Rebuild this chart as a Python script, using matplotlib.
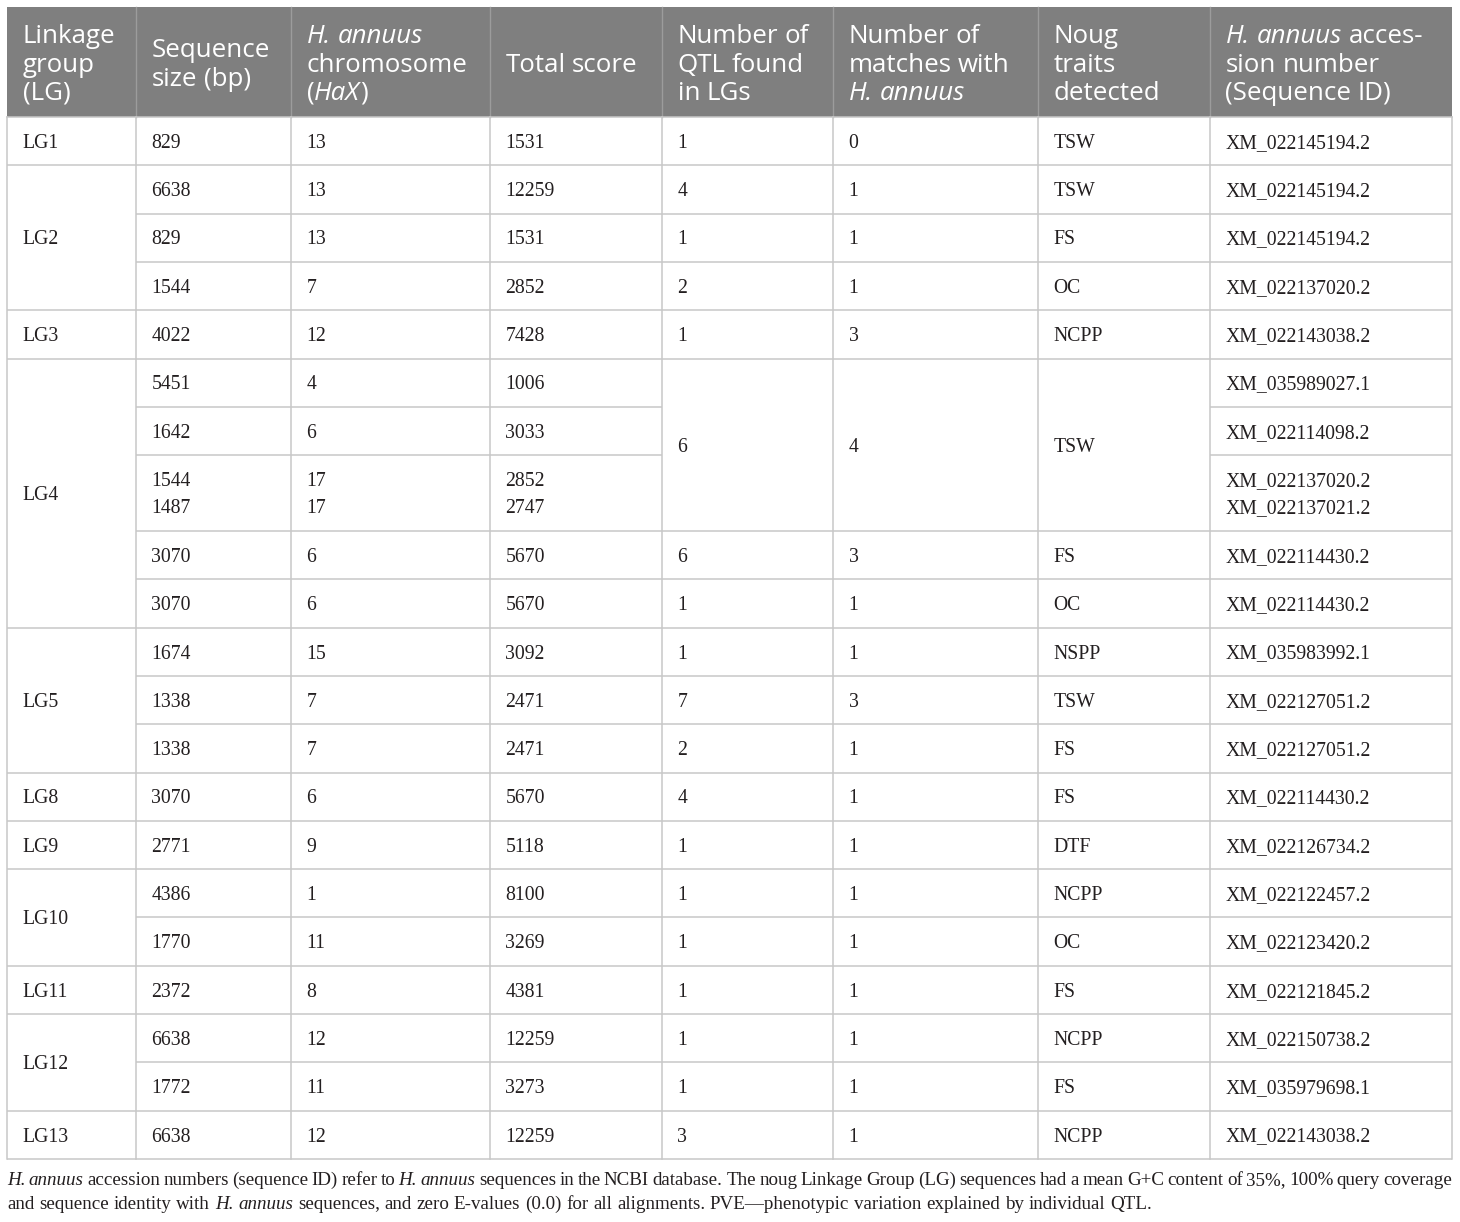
import matplotlib
matplotlib.use("Agg")
import matplotlib.pyplot as plt
from matplotlib import font_manager
from matplotlib.ft2font import FT2Font
import re

# ---- data ----
lg_groups = ["LG1", "LG2", "LG3", "LG4", "LG5", "LG8", "LG9", "LG10", "LG11", "LG12", "LG13"]
lg_sizes = [1, 3, 1, 5, 3, 1, 1, 2, 1, 2, 1]

seq_size = ["829", "6638", "829", "1544", "4022", "5451", "1642", "1544\n1487", "3070", "3070",
            "1674", "1338", "1338", "3070", "2771", "4386", "1770", "2372", "6638", "1772", "6638"]
chromosome = ["13", "13", "13", "7", "12", "4", "6", "17\n17", "6", "6",
              "15", "7", "7", "6", "9", "1", "11", "8", "12", "11", "12"]
total_score = ["1531", "12259", "1531", "2852", "7428", "1006", "3033", "2852\n2747", "5670", "5670",
               "3092", "2471", "2471", "5670", "5118", "8100", "3269", "4381", "12259", "3273", "12259"]
# None = merged with the cell above
qtl_found = ["1", "4", "1", "2", "1", "6", None, None, "6", "1",
             "1", "7", "2", "4", "1", "1", "1", "1", "1", "1", "3"]
matches = ["0", "1", "1", "1", "3", "4", None, None, "3", "1",
           "1", "3", "1", "1", "1", "1", "1", "1", "1", "1", "1"]
traits = ["TSW", "TSW", "FS", "OC", "NCPP", "TSW", None, None, "FS", "OC",
          "NSPP", "TSW", "FS", "FS", "DTF", "NCPP", "OC", "FS", "NCPP", "FS", "NCPP"]
accession = ["XM_022145194.2", "XM_022145194.2", "XM_022145194.2", "XM_022137020.2", "XM_022143038.2",
             "XM_035989027.1", "XM_022114098.2", "XM_022137020.2\nXM_022137021.2", "XM_022114430.2",
             "XM_022114430.2", "XM_035983992.1", "XM_022127051.2", "XM_022127051.2", "XM_022114430.2",
             "XM_022126734.2", "XM_022122457.2", "XM_022123420.2", "XM_022121845.2", "XM_022150738.2",
             "XM_035979698.1", "XM_022143038.2"]

# header lines, each line a list of (text, italic)
headers = [
    [[("Linkage", 0)], [("group", 0)], [("(LG)", 0)]],
    [[("Sequence", 0)], [("size (bp)", 0)]],
    [[("H. annuus", 1)], [("chromosome", 0)], [("(", 0), ("HaX", 1), (")", 0)]],
    [[("Total score", 0)]],
    [[("Number of", 0)], [("QTL found", 0)], [("in LGs", 0)]],
    [[("Number of", 0)], [("matches with", 0)], [("H. annuus", 1)]],
    [[("Noug", 0)], [("traits", 0)], [("detected", 0)]],
    [[("H. annuus", 1), (" acces-", 0)], [("sion number", 0)], [("(Sequence ID)", 0)]],
]

caption = [
    [("H. annuus", 1), (" accession numbers (sequence ID) refer to ", 0), ("H. annuus", 1),
     (" sequences in the NCBI database. The noug Linkage Group (LG) sequences had a mean G+C content "
      "of 35%, 100% query coverage", 0)],
    [("and sequence identity with ", 0), ("H. annuus", 1),
     (" sequences, and zero E-values (0.0) for all alignments. PVE\u2014phenotypic variation explained "
      "by individual QTL.", 0)],
]

# ---- layout ----
W, H = 1460, 1222
col_x = [7, 136, 291, 490, 662, 833, 1038, 1210, 1452]
head_top, head_bot = 7, 117
row_h, extra_line = 48.3, 27.7
pad = 15.5

head_col = "#7f7f7f"
grid_col = "#c8c8c8"
txt_col = "#231f20"
sans = "Open Sans"
serif = "Liberation Serif"
head_fs = 18.6
body_fs = 14.2
cap_fs = 13.7

fig = plt.figure(figsize=(W / 100, H / 100), dpi=100)
ax = fig.add_axes([0, 0, 1, 1])
ax.set_xlim(0, W)
ax.set_ylim(H, 0)
ax.axis("off")

_fonts = {}


def adv(s, fam, size, it):
    # sum of glyph advances in pixels
    key = (fam, it)
    if key not in _fonts:
        fp = font_manager.FontProperties(family=fam, style="italic" if it else "normal")
        _fonts[key] = FT2Font(font_manager.findfont(fp))
    f = _fonts[key]
    f.set_size(size, 100)
    return sum(f.load_char(ord(ch)).linearHoriAdvance for ch in s) / 65536.0


def draw_runs(x, y, runs, fam, size, color, target=None):
    items = []
    for text, it in runs:
        for tok in re.findall(r"\s+|\S+", text):
            items.append((None, 0) if tok.isspace() else (tok, it))
    sp = adv(" ", fam, size, 0)
    widths = [adv(t, fam, size, it) if t else 0 for t, it in items]
    n_sp = sum(1 for t, _ in items if t is None)
    gap = sp
    if target is not None and n_sp:
        gap = (target - sum(widths)) / n_sp
    for (t, it), w in zip(items, widths):
        if t is None:
            x += gap
            continue
        ax.text(x, y, t, family=fam, size=size, style="italic" if it else "normal",
                color=color, ha="left", va="baseline")
        x += w


# header
ax.add_patch(plt.Rectangle((col_x[0], head_top), col_x[-1] - col_x[0], head_bot - head_top,
                           facecolor=head_col, edgecolor="none"))
for xc in col_x[1:-1]:
    ax.plot([xc, xc], [head_top, head_bot], color="#9c9c9c", lw=1.0)
head_mid = 71.5
for c, lines in enumerate(headers):
    n = len(lines)
    for i, runs in enumerate(lines):
        yb = head_mid + (i - (n - 1) / 2) * 28.5
        draw_runs(col_x[c] + pad, yb, runs, sans, head_fs, "white")

# body rows
columns = [None, seq_size, chromosome, total_score, qtl_found, matches, traits, accession]
n_rows = len(seq_size)
heights = [row_h + extra_line * (s.count("\n")) for s in seq_size]
y_edges = [head_bot]
for h in heights:
    y_edges.append(y_edges[-1] + h)

# linkage group column spans
spans = {0: []}
r = 0
for g, n in zip(lg_groups, lg_sizes):
    spans[0].append((g, r, r + n))
    r += n
for c in range(1, 8):
    spans[c] = []
    vals = columns[c]
    for i, v in enumerate(vals):
        if v is not None:
            j = i + 1
            while j < n_rows and vals[j] is None:
                j += 1
            spans[c].append((v, i, j))

lw = 1.1
for c in range(8):
    x0, x1 = col_x[c], col_x[c + 1]
    for text, r0, r1 in spans[c]:
        ya, yb = y_edges[r0], y_edges[r1]
        ax.plot([x0, x1], [yb, yb], color=grid_col, lw=lw, solid_capstyle="butt")
        lines = text.split("\n")
        mid = (ya + yb) / 2
        for i, ln in enumerate(lines):
            yl = mid + (i - (len(lines) - 1) / 2) * 27 + 6.7
            ax.text(x0 + pad, yl, ln, family=serif, size=body_fs, color=txt_col,
                    ha="left", va="baseline")

for xc in col_x:
    ax.plot([xc, xc], [head_bot, y_edges[-1]], color=grid_col, lw=lw)
ax.plot([col_x[0], col_x[-1]], [head_bot, head_bot], color=grid_col, lw=lw)

# caption
draw_runs(col_x[0], 1185, caption[0], serif, cap_fs, txt_col, target=col_x[-1] - col_x[0])
draw_runs(col_x[0], 1209, caption[1], serif, cap_fs, txt_col)

fig.savefig("out.png", dpi=100)
